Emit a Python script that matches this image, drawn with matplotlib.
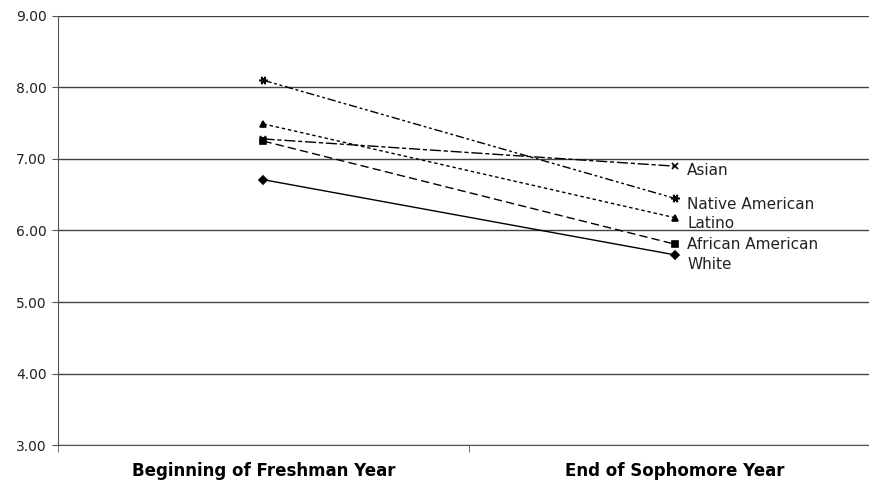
import matplotlib.pyplot as plt
import numpy as np

plt.rcParams.update({'font.family': ['Verdana', 'DejaVu Sans'], 'font.size': 10})

categories = ['Beginning of Freshman Year', 'End of Sophomore Year']
groups = ['Asian', 'Native American', 'Latino', 'African American', 'White']
asian = [7.28, 6.90]
native_american = [8.10, 6.45]
latino = [7.49, 6.18]
african_american = [7.25, 5.81]
white = [6.71, 5.66]
# y positions of the right-hand labels
label_y = [6.84, 6.37, 6.10, 5.81, 5.52]

series = [asian, native_american, latino, african_american, white]
styles = [((0, (8, 2, 3, 2)), 'x', 4.5),
          ((0, (6, 2, 2, 2, 2, 2)), (6, 2, 90), 6),
          ((0, (2.5, 2)), '^', 4.5),
          ((0, (6, 3)), 's', 4),
          ('-', 'D', 4)]

fig = plt.figure(figsize=(8.69, 4.87), dpi=100)
ax = fig.add_axes([0.0667, 0.0862, 0.9333, 0.881])

x = np.arange(len(categories))
for vals, (ls, mk, ms) in zip(series, styles):
    ax.plot(x, vals, color='black', linestyle=ls, linewidth=1.0,
            marker=mk, markersize=ms, markeredgewidth=1.2)

for name, yy in zip(groups, label_y):
    ax.annotate(name, xy=(x[-1], yy), xytext=(9, 0), textcoords='offset points',
                va='center', ha='left', fontsize=11, color='#222222')

ax.set_yticks(np.arange(3, 10, 1))
ax.set_yticklabels([f'{v:.2f}' for v in np.arange(3, 10, 1)], color='#222222')
ax.set_xticks(x)
ax.set_xticklabels(categories, fontweight='bold', fontsize=12)
ax.set_xticks([-0.5, 0.5, 1.5], minor=True)
ax.set_ylim(3, 9)
ax.set_xlim(-0.5, 1.473)
ax.tick_params(axis='x', which='major', length=0, pad=12)
ax.tick_params(axis='x', which='minor', length=5, color='#555555')
ax.tick_params(axis='y', length=4, color='#555555', pad=4)

ax.grid(axis='y', color='#444444', linewidth=1.0)
ax.set_axisbelow(True)
ax.spines['top'].set_visible(False)
ax.spines['right'].set_visible(False)
ax.spines['left'].set_color('#555555')
ax.spines['bottom'].set_color('#555555')

plt.savefig('out.png', dpi=100)
